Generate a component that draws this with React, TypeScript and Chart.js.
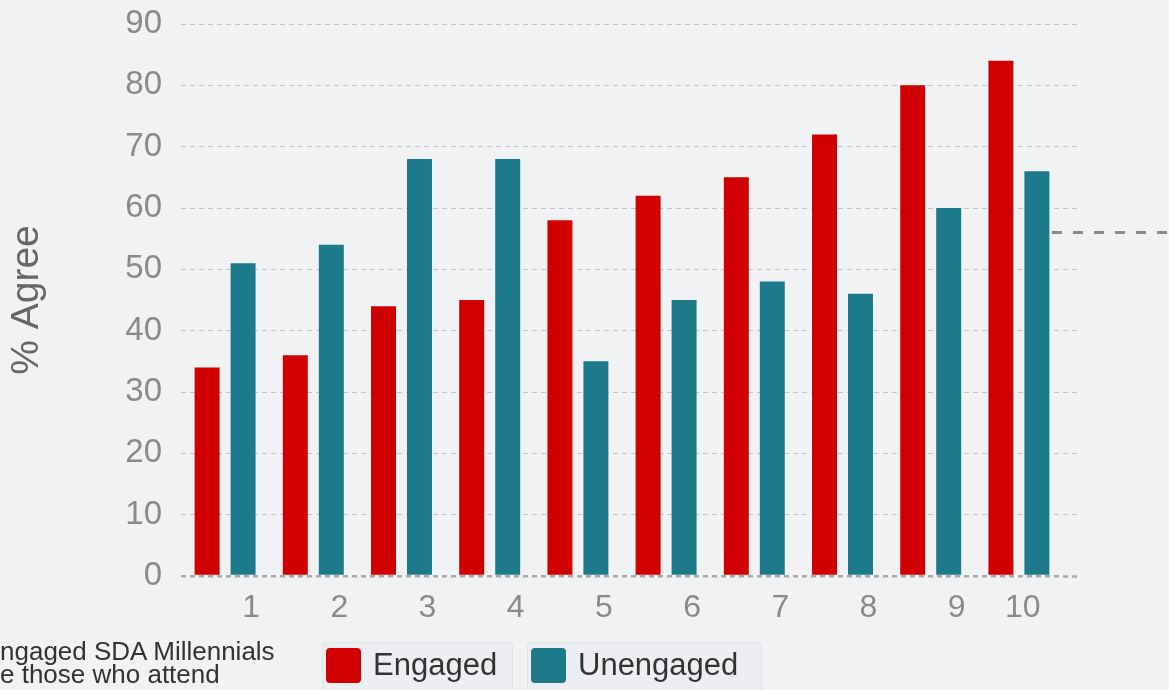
import React, { useEffect, useRef } from "react";
import { Chart, registerables } from "chart.js";

Chart.register(...registerables);

const categories = ["1", "2", "3", "4", "5", "6", "7", "8", "9", "10"];
const engaged = [34, 36, 44, 45, 58, 62, 65, 72, 80, 84];
const unengaged = [51, 54, 68, 68, 35, 45, 48, 46, 60, 66];
const yTicks = [0, 10, 20, 30, 40, 50, 60, 70, 80, 90];
const referenceLine = 56;
const seriesNames = ["Engaged", "Unengaged"];
const noteLines = ["ngaged SDA Millennials", "e those who attend"];

const RED = "#d00000";
const TEAL = "#1d7a8a";
const FONT = "'Liberation Sans', Arial, Helvetica, sans-serif";

const refLinePlugin = {
  id: "refLine",
  afterDraw(chart: any) {
    const y = chart.scales.y.getPixelForValue(referenceLine);
    const ctx = chart.ctx;
    ctx.save();
    ctx.strokeStyle = "#8a8a8a";
    ctx.lineWidth = 3;
    ctx.setLineDash([10, 11]);
    ctx.beginPath();
    ctx.moveTo(chart.chartArea.right - 11, y);
    ctx.lineTo(chart.width, y);
    ctx.stroke();
    ctx.restore();
  },
};

export default function App() {
  const ref = useRef<HTMLCanvasElement | null>(null);

  useEffect(() => {
    document.body.style.margin = "0";
    const canvas = ref.current!;
    const chart = new Chart(canvas, {
      type: "bar",
      data: {
        labels: categories,
        datasets: [
          { label: seriesNames[0], data: engaged, backgroundColor: RED },
          { label: seriesNames[1], data: unengaged, backgroundColor: TEAL },
        ],
      },
      options: {
        animation: false,
        responsive: false,
        maintainAspectRatio: false,
        devicePixelRatio: 1,
        layout: { padding: { top: 24, right: 91, bottom: 0, left: 0 } },
        plugins: { legend: { display: false }, tooltip: { enabled: false } },
        datasets: { bar: { categoryPercentage: 0.816, barPercentage: 0.694 } },
        scales: {
          x: {
            type: "category",
            grid: { display: false },
            border: { display: false },
            ticks: {
              color: "#8a8a8a",
              font: { family: FONT, size: 32 },
              labelOffset: 26,
              padding: 5,
              maxRotation: 0,
              autoSkip: false,
              callback: (_v: any, i: number) =>
                i === categories.length - 1 ? categories[i] + "\u00a0\u00a0\u00a0\u00a0\u00a0" : categories[i],
            },
            afterFit: (s: any) => {
              s.height = 114;
              s.paddingLeft = 0;
              s.paddingRight = 0;
            },
          },
          y: {
            min: 0,
            max: 90,
            afterBuildTicks: (s: any) => {
              s.ticks = yTicks.map((v) => ({ value: v }));
            },
            grid: {
              drawTicks: false,
              color: (c: any) => (c.tick && c.tick.value === 0 ? "#a8a8a8" : "#c4c4c4"),
              lineWidth: (c: any) => (c.tick && c.tick.value === 0 ? 2.5 : 1),
            },
            border: { display: false, dash: [5, 4] },
            ticks: {
              color: "#8a8a8a",
              font: { family: FONT, size: 33 },
              padding: 19,
            },
            title: {
              display: true,
              text: "% Agree",
              color: "#666",
              font: { family: FONT, size: 39 },
              padding: { top: 4, bottom: 0 },
            },
            afterFit: (s: any) => {
              s.width = 181;
              s.paddingTop = 0;
              s.paddingBottom = 0;
            },
          },
          yR: {
            position: "right",
            min: 0,
            max: 90,
            afterBuildTicks: (s: any) => {
              s.ticks = yTicks.map((v) => ({ value: v }));
            },
            grid: {
              drawOnChartArea: false,
              drawTicks: true,
              tickLength: 15,
              tickColor: (c: any) => (c.tick && c.tick.value === 0 ? "#a8a8a8" : "#c4c4c4"),
              tickWidth: (c: any) => (c.tick && c.tick.value === 0 ? 2.5 : 1),
              tickBorderDash: [5, 4],
            },
            border: { display: false },
            ticks: { display: false },
            afterFit: (s: any) => {
              s.paddingTop = 0;
              s.paddingBottom = 0;
            },
          },
        },
      } as any,
      plugins: [refLinePlugin],
    });
    return () => chart.destroy();
  }, []);

  const legendBox = (left: number, width: number, color: string, text: string) => (
    <div
      style={{
        position: "absolute",
        left,
        top: 642,
        width,
        height: 60,
        background: "#eceef1",
        border: "1px solid #e1e3e6",
        borderRadius: 3,
        boxSizing: "border-box",
      }}
    >
      <div
        style={{
          position: "absolute",
          left: 3,
          top: 5,
          width: 35,
          height: 35,
          background: color,
          borderRadius: 4,
        }}
      />
      <div
        style={{
          position: "absolute",
          left: 50,
          top: 2,
          fontFamily: FONT,
          fontSize: 31,
          lineHeight: "40px",
          color: "#333",
          whiteSpace: "nowrap",
        }}
      >
        {text}
      </div>
    </div>
  );

  return (
    <div
      style={{
        position: "fixed",
        left: 0,
        top: 0,
        width: 1169,
        height: 690,
        overflow: "hidden",
        background: "#f1f2f4",
      }}
    >
      <canvas ref={ref} width={1169} height={690} style={{ position: "absolute", left: 0, top: 0 }} />
      <div
        style={{
          position: "absolute",
          left: 0,
          top: 640,
          fontFamily: FONT,
          fontSize: 26,
          lineHeight: "23px",
          color: "#333",
          whiteSpace: "nowrap",
        }}
      >
        {noteLines.map((l, i) => (
          <div key={i}>{l}</div>
        ))}
      </div>
      {legendBox(322, 191, RED, seriesNames[0])}
      {legendBox(527, 235, TEAL, seriesNames[1])}
    </div>
  );
}
